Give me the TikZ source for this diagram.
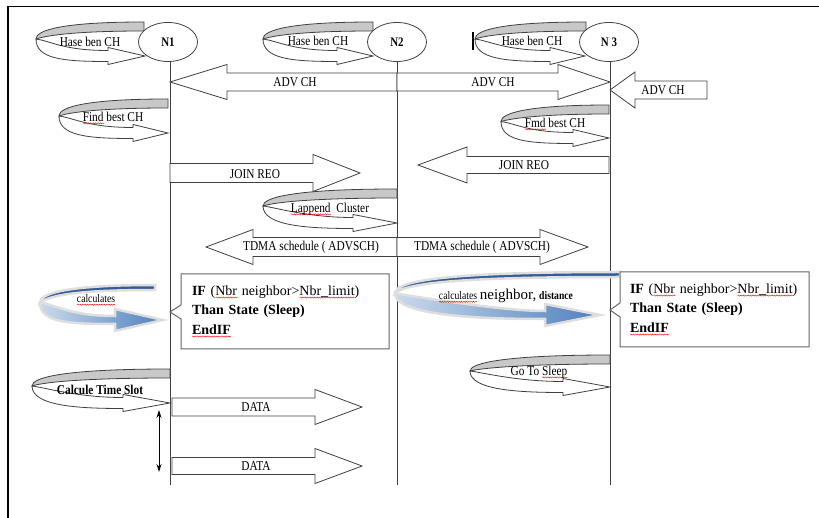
\documentclass[tikz,border=0pt]{standalone}
\usepackage{fontspec}
\setmainfont{Liberation Serif}
\newfontfamily\narrowfont{Liberation Serif}[FakeStretch=0.84]
\usepackage{tikz}
\usetikzlibrary{
    shapes.geometric,
    shapes.callouts,
    arrows.meta,
    positioning,
    calc,
    decorations.pathmorphing
}
\definecolor{Cline}{RGB}{64, 64, 64}
\definecolor{Cback}{RGB}{200, 200, 200}
\definecolor{Cblue}{RGB}{79, 129, 189}
\definecolor{Cbluedark}{RGB}{52, 92, 150}
\definecolor{Cglow}{RGB}{222, 222, 222}
\tikzset{
    cnode/.style={
        ellipse, draw=Cline, line width=0.8pt, fill=white,
        minimum width=59pt, minimum height=39pt, inner sep=0pt,
        font=\narrowfont\fontsize{13}{15}\selectfont\bfseries
    },
    clife/.style={draw=Cline, line width=0.8pt},
    cblock/.style={draw=Cline, line width=0.8pt, fill=white, line join=miter},
    clabel/.style={inner sep=0pt, font=\narrowfont\fontsize{13.5}{15}\selectfont},
    cbold/.style={clabel, font=\narrowfont\fontsize{13.5}{15}\selectfont\bfseries},
    cbox/.style={
        rectangle callout, draw=Cline!80, line width=1pt, fill=white,
        callout pointer width=14pt, align=left, inner xsep=10pt, inner ysep=4pt,
        minimum height=75pt, font=\fontsize{14}{19.5}\selectfont
    },
    plain back/.style={fill=Cback, draw=Cline, line width=0.8pt},
    plain front/.style={fill=white, draw=Cline, line width=0.8pt},
    blue back/.style={fill=Cbluedark, draw=Cglow, line width=2.5pt},
    blue front/.style={left color=Cblue!30, right color=Cblue, draw=Cglow, line width=2.5pt},
}
% ribbon sizes
\newcommand{\uband}{9}
\newcommand{\ushaft}{5.5}
\newcommand{\uhead}{8.5}
% #1 look, #2 right end, #3 left end, #4 top, #5/#6 tip, #7 head base
\newcommand{\uturn}[7][plain]{%
    \pgfmathsetmacro{\uym}{(#4+#6)/2}
    \path[#1 back] (#2,#4) .. controls ({#3+0.25*(#2-#3)},#4) and (#3,#4+8) .. (#3,\uym)
        .. controls (#3+12,#4+\uband+4) and ({#3+0.4*(#2-#3)},#4+\uband) .. (#2,#4+\uband) -- cycle;
    \path[#1 front] (#3,\uym) .. controls (#3,#6+3) and (#7-45,#6+\ushaft) .. (#7,#6+\ushaft)
        -- (#7,#6+\uhead) -- (#5,#6) -- (#7,#6-\uhead) -- (#7,#6-\ushaft)
        .. controls (#7-45,#6-\ushaft) and (#3+15,\uym+2) .. (#3,\uym) -- cycle;
}
% #1 tail x, #2 tip x, #3 y, #4 head base x, #5 shaft half, #6 head half
\newcommand{\blockarrow}[6]{%
    \draw[cblock] (#1,#3-#5) -- (#4,#3-#5) -- (#4,#3-#6) -- (#2,#3)
        -- (#4,#3+#6) -- (#4,#3+#5) -- (#1,#3+#5) -- cycle;
}
% spell-check squiggle
\newsavebox{\sqbox}
\newlength{\sqlen}
\newcommand{\squig}[1]{\sbox{\sqbox}{#1}\setlength{\sqlen}{\wd\sqbox}%
    \rlap{\tikz[baseline=0pt]\draw[red, line width=0.4pt, decorate,
        decoration={snake, amplitude=0.6pt, segment length=2.4pt}] (0pt,-2.2pt) -- (\sqlen,-2.2pt);}%
    \usebox{\sqbox}}

\begin{document}
\begin{tikzpicture}[x=1pt, y=-1pt]
    \useasboundingbox (0,0) rectangle (819,518);

    % ── frame ─────────────────────────────────────────────
    \draw[line width=1.5pt] (8,518) -- (8,6.5) -- (819,6.5);

    % ── self loops at the heads ───────────────────────────
    \uturn{144}{36}{22}{145}{56}{108}
    \uturn{373}{263}{22}{373}{56}{337}
    \uturn{586}{475}{22}{585}{56}{550}
    \draw[line width=1.5pt] (473,32) -- (473,50);

    % ── nodes and lifelines ───────────────────────────────
    \node[cnode] (N1) at (168,42) {N1};
    \node[cnode] (N2) at (397,42) {N2};
    \node[cnode] (N3) at (609,42) {N 3};
    \coordinate (N1end) at (170,485);
    \coordinate (N2end) at (397,485);
    \coordinate (N3end) at (610,485);
    \draw[clife] (N1end |- N1.south) -- (N1end);
    \draw[clife] (N2end |- N2.south) -- (N2end);
    \draw[clife] (N3end |- N3.south) -- (N3end);

    % ── self loops on the lifelines ───────────────────────
    \uturn{168}{59}{99}{168}{133}{133}
    \uturn{609}{501}{105}{609}{138}{573}
    \uturn{397}{263}{189}{397}{223}{353}
    \uturn{610}{470}{355}{610}{387}{563}
    \uturn{170}{32}{369}{170}{403}{123}
    {\renewcommand{\uband}{5}\renewcommand{\ushaft}{4}\renewcommand{\uhead}{11}
     \uturn[blue]{155}{40}{285}{163}{320}{115}
     \uturn[blue]{620}{395}{272}{600}{315}{545}}

    % ── messages ──────────────────────────────────────────
    \blockarrow{397}{170}{82}{227}{9}{17.5}
    \blockarrow{397}{610}{82}{558}{9}{17.5}
    \blockarrow{707}{610}{90}{635}{9}{18}
    \blockarrow{170}{360}{173}{313}{9.5}{18.5}
    \blockarrow{609}{418}{165}{467}{8.5}{18}
    \blockarrow{397}{206}{247}{253}{9.5}{17.5}
    \blockarrow{397}{588}{247}{540}{9.5}{17.5}
    \blockarrow{172}{362}{407}{315}{9}{17.5}
    \blockarrow{172}{362}{466}{315}{8.5}{17.5}

    % ── labels ────────────────────────────────────────────
    \node[clabel] (hase1) at (90,42) {Hase ben CH};
    \node[clabel] (hase2) at (318,41) {Hase ben CH};
    \node[clabel] (hase3) at (532,41) {Hase ben CH};
    \node[clabel] (find1) at (113,118) {\squig{Find} best CH};
    \node[clabel] (find3) at (555,124) {\squig{Fmd} best CH};
    \node[clabel] (adv12) at (295,82) {ADV CH};
    \node[clabel] (adv23) at (493,82) {ADV CH};
    \node[clabel] (adv3) at (663,90) {ADV CH};
    \node[clabel] (join1) at (255,174) {JOIN REO};
    \node[clabel] (join3) at (524,165) {JOIN REO};
    \node[clabel] (append2) at (330,209) {\squig{Lappend}\ \ Cluster};
    \node[clabel] (tdma21) at (311,247) {TDMA schedule ( ADVSCH)};
    \node[clabel] (tdma23) at (482,247) {TDMA schedule ( ADVSCH)};
    \node[clabel] (calc1) at (96,300) {\fontsize{11.5}{13}\selectfont\squig{calculates}};
    \node[clabel] (calc2) at (506,296) {{\fontsize{11.5}{13}\selectfont\squig{calculates}}
        {\rmfamily\fontsize{15}{16}\selectfont neighbor,} {\fontsize{11.5}{13}\selectfont\bfseries distance}};
    \node[clabel] (sleep3) at (539,372) {Go To \squig{Sleep}};
    \node[cbold] (slot1) at (100,390) {Calcule Time Slot};
    \node[clabel] (data1) at (256,407) {DATA};
    \node[clabel] (data2) at (256,466) {DATA};

    % ── conditions ────────────────────────────────────────
    \node[cbox, text width=186pt, inner xsep=11pt, callout absolute pointer={(170,312)}]
        (cond1) at (285,311.5) {\textbf{IF} (\squig{Nbr} neighbor>\squig{Nbr\_limit})\\
        \textbf{Than State (Sleep)}\\ \textbf{\squig{EndIF}}};
    \node[cbox, text width=169pt, callout absolute pointer={(610,310)}]
        (cond3) at (714.5,309.5) {\textbf{IF} (\squig{Nbr} neighbor>\squig{Nbr\_limit})\\
        \textbf{Than State (Sleep)}\\ \textbf{\squig{EndIF}}};

    % ── slot gap ──────────────────────────────────────────
    \coordinate (gapA) at (159,410);
    \coordinate (gapB) at (159,472);
    \draw[{Stealth[length=8pt, width=5pt]}-{Stealth[length=8pt, width=5pt]}, line width=0.8pt] (gapA) -- (gapB);

\end{tikzpicture}
\end{document}
